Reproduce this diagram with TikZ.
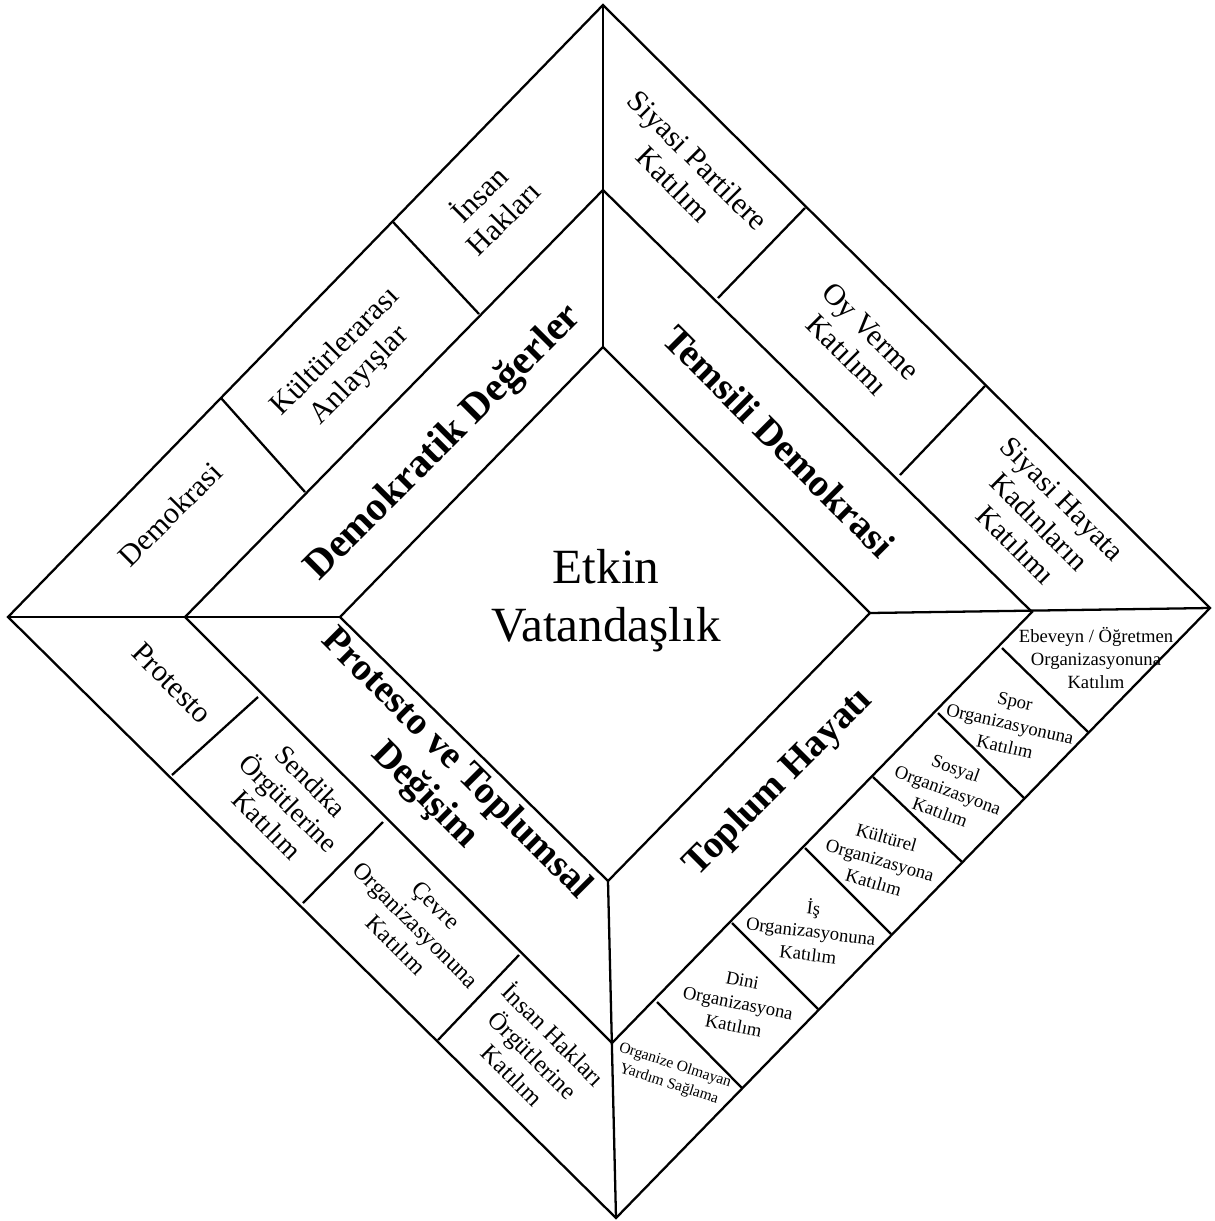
\documentclass[tikz,border=0pt]{standalone}
\usepackage{fontspec}
\setmainfont{Liberation Serif}

\begin{document}
\begin{tikzpicture}[x=0.01cm, y=-0.01cm,
    frame/.style={line width=0.65pt, black, line join=miter},
    core/.style={align=center, font=\fontsize{14}{16.5}\selectfont},
    pillar/.style={align=center, rotate=#1, inner sep=1pt,
                   font=\fontsize{11}{12.6}\selectfont\bfseries},
    item/.style={align=center, rotate=#1, inner sep=1pt,
                 font=\fontsize{8.6}{9.6}\selectfont},
    tiny/.style={align=center, rotate=#1, inner sep=1pt,
                 font=\fontsize{5.3}{6.6}\selectfont}
  ]
    \useasboundingbox (0,0) rectangle (1214,1221);

    \coordinate (oT) at (603,5);    \coordinate (oR) at (1210,608);
    \coordinate (oB) at (616,1218); \coordinate (oL) at (8,617);
    \coordinate (mT) at (603,190);  \coordinate (mR) at (1032,612);
    \coordinate (mB) at (612,1043); \coordinate (mL) at (185,617);
    \coordinate (iT) at (603,347);  \coordinate (iR) at (870,613);
    \coordinate (iB) at (608,881);  \coordinate (iL) at (340,617);

    \draw[frame] (oT) -- (oR) -- (oB) -- (oL) -- cycle;
    \draw[frame] (mT) -- (mR) -- (mB) -- (mL) -- cycle;
    \draw[frame] (iT) -- (iR) -- (iB) -- (iL) -- cycle;
    \draw[frame] (iT) -- (oT);
    \draw[frame] (iR) -- (oR);
    \draw[frame] (iB) -- (oB);
    \draw[frame] (iL) -- (oL);

    % box borders in the outer ring
    \draw[frame] (305,492) -- (221,398);
    \draw[frame] (479,314) -- (393,222);
    \draw[frame] (718,298) -- (805,208);
    \draw[frame] (900,475) -- (985,386);
    \draw[frame] (258,697) -- (172,775);
    \draw[frame] (383,822) -- (303,903);
    \draw[frame] (519,955) -- (438,1040);
    \draw[frame] (1002,648) -- (1088,732);
    \draw[frame] (938,713) -- (1024,798);
    \draw[frame] (873,777) -- (962,862);
    \draw[frame] (805,848) -- (891,934);
    \draw[frame] (732,923) -- (818,1009);
    \draw[frame] (657,1002) -- (742,1088);

    \node[core] (core) at (606,601) {Etkin\\Vatandaşlık};

    \node[pillar=45, font=\fontsize{11.6}{13}\selectfont\bfseries] (demval) at (444,443) {Demokratik Değerler};
    \node[pillar=-45] (repdem) at (779,441) {Temsili Demokrasi};
    \node[pillar=-45] (protest) at (440,780) {Protesto ve Toplumsal\\Değişim};
    \node[pillar=45] (community) at (779,783) {Toplum Hayatı};

    \node[item=45] (demo) at (170,514) {Demokrasi};
    \node[item=45] (intercult) at (348,364) {Kültürlerarası\\Anlayışlar};
    \node[item=45] (hrights) at (490,205) {İnsan\\Hakları};

    \node[item=-45] (parties) at (686,172) {Siyasi Partilere\\Katılım};
    \node[item=-45] (voting) at (859,343) {Oy Verme\\Katılımı};
    \node[item=-45, font=\fontsize{8.3}{9.4}\selectfont] (women) at (1039,522) {Siyasi Hayata\\Kadınların\\Katılımı};

    \node[item=-45] (protestbox) at (172,683) {Protesto};
    \node[item=-45, font=\fontsize{7.8}{8.8}\selectfont] (union) at (289,803) {Sendika\\Örgütlerine\\Katılım};
    \node[item=-45, font=\fontsize{6.8}{8}\selectfont] (envorg) at (416,925) {Çevre\\Organizasyonuna\\Katılım};
    \node[item=-45, font=\fontsize{7}{8.2}\selectfont] (hrorg) at (534,1054) {İnsan Hakları\\Örgütlerine\\Katılım};

    \node[tiny=0] (parent) at (1096,658) {Ebeveyn / Öğretmen\\Organizasyonuna\\Katılım};
    \node[tiny=-13] (sport) at (1010,724) {Spor\\Organizasyonuna\\Katılım};
    \node[tiny=-20] (social) at (948,790) {Sosyal\\Organizasyona\\Katılım};
    \node[tiny=-16] (culture) at (880,860) {Kültürel\\Organizasyona\\Katılım};
    \node[tiny=-7] (business) at (811,930) {İş\\Organizasyonuna\\Katılım};
    \node[tiny=-11] (religion) at (738,1003) {Dini\\Organizasyona\\Katılım};
    \node[tiny=-18, font=\fontsize{4.4}{5.6}\selectfont] (unorg) at (672,1075) {Organize Olmayan\\Yardım Sağlama};
  \end{tikzpicture}
\end{document}
